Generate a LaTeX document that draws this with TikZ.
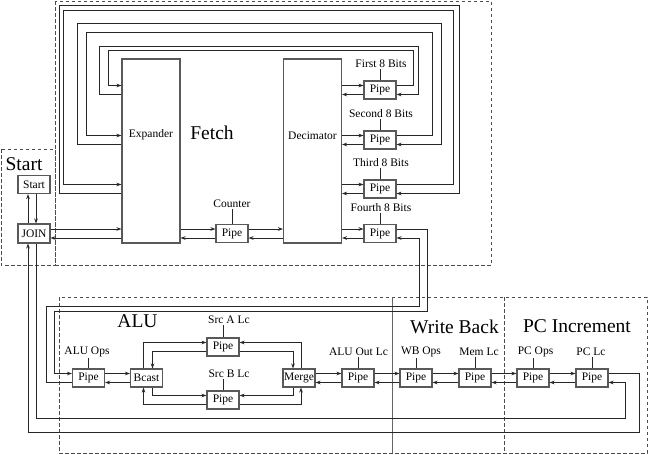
\documentclass[tikz,border=0pt]{standalone}
\usepackage{fontspec}
\setmainfont{Liberation Serif}
\usetikzlibrary{arrows.meta}

\newcommand{\tagsize}{\fontsize{11.5}{13}\selectfont}
\newcommand{\titlesize}{\fontsize{19.5}{22}\selectfont}

\begin{document}
\begin{tikzpicture}[x=1pt, y=-1pt,
    pipe/.style={draw=black!65, line width=1.1pt, minimum width=32pt, minimum height=18pt, inner sep=0pt, font=\tagsize},
    unit/.style={draw=black!65, line width=1.1pt, minimum width=58pt, minimum height=184pt, inner sep=0pt},
    tag/.style={inner sep=1pt, font=\tagsize},
    title/.style={inner sep=0pt, font=\titlesize},
    wire/.style={black!85, line width=0.8pt},
    arr/.style={wire, -{Stealth[length=5pt,width=3.6pt]}},
    region/.style={black!70, line width=0.8pt, dash pattern=on 3.5pt off 2.5pt},
    upr/.style={yshift=4.5pt},
    lwr/.style={yshift=-4.5pt}]
            \useasboundingbox (0,0) rectangle (649,455);

            % regions
            \draw[region] (55,1) rectangle (491,265);
            \draw[region] (1,149) rectangle (55,265);
            \draw[region] (59,297) rectangle (647,453);
            \draw[region] (504,297) -- (504,453);
            \draw[black!60, line width=0.8pt] (392,297) -- (392,453);

            \node[title] (startttl) at (24,164) {Start};
            \node[title] (fetchttl) at (212,133) {Fetch};
            \node[title] (aluttl) at (137.5,321.5) {ALU};
            \node[title] (wbttl) at (454.5,326.5) {Write Back};
            \node[title] (pcttl) at (577,326.5) {PC Increment};

            % start
            \node[pipe] (start) at (34,184.5) {Start};
            \node[pipe, minimum height=19pt] (join) at (34,233.5) {JOIN};

            % fetch
            \node[unit] (exp) at (151,151) {};
            \node[unit] (dec) at (312.5,151) {};
            \node[tag] (explbl) at (151,135) {Expander};
            \node[tag] (declbl) at (312.5,136) {Decimator};

            \node[pipe] (cnt) at (232,233.5) {Pipe};
            \node[pipe] (p1) at (380,90) {Pipe};
            \node[pipe] (p2) at (380,140) {Pipe};
            \node[pipe] (p3) at (380,189) {Pipe};
            \node[pipe] (p4) at (380,233.5) {Pipe};

            \node[tag] (cntlbl) at (232,204) {Counter};
            \node[tag] (p1lbl) at (381,64) {First 8 Bits};
            \node[tag] (p2lbl) at (381,114) {Second 8 Bits};
            \node[tag] (p3lbl) at (381,163) {Third 8 Bits};
            \node[tag] (p4lbl) at (381,207.5) {Fourth 8 Bits};

            % alu, write back, pc increment
            \node[pipe] (aluops) at (88.5,378) {Pipe};
            \node[pipe] (bcast) at (146.5,378) {Bcast};
            \node[pipe] (srca) at (223,347) {Pipe};
            \node[pipe] (srcb) at (223,400) {Pipe};
            \node[pipe] (merge) at (299,378) {Merge};
            \node[pipe] (aluout) at (358,378) {Pipe};
            \node[pipe] (wbops) at (416,378) {Pipe};
            \node[pipe] (memlc) at (475,378) {Pipe};
            \node[pipe] (pcops) at (533,378) {Pipe};
            \node[pipe] (pclc) at (592,378) {Pipe};

            \node[tag] (aluopslbl) at (87,352) {ALU Ops};
            \node[tag] (srcalbl) at (229,320) {Src A Lc};
            \node[tag] (srcblbl) at (229,374) {Src B Lc};
            \node[tag] (aluoutlbl) at (358.5,352) {ALU Out Lc};
            \node[tag] (wbopslbl) at (421,352) {WB Ops};
            \node[tag] (memlclbl) at (479,352) {Mem Lc};
            \node[tag] (pcopslbl) at (535.5,352) {PC Ops};
            \node[tag] (pclclbl) at (591,352) {PC Lc};

            % label ticks
            \draw[wire] (cnt.north |- cntlbl.south) -- (cnt.north);
            \draw[wire] (p1.north |- p1lbl.south) -- (p1.north);
            \draw[wire] (p2.north |- p2lbl.south) -- (p2.north);
            \draw[wire] (p3.north |- p3lbl.south) -- (p3.north);
            \draw[wire] (p4.north |- p4lbl.south) -- (p4.north);
            \draw[wire] (aluops.north |- aluopslbl.south) -- (aluops.north);
            \draw[wire] (srca.north |- srcalbl.south) -- (srca.north);
            \draw[wire] (srcb.north |- srcblbl.south) -- (srcb.north);
            \draw[wire] (aluout.north |- aluoutlbl.south) -- (aluout.north);
            \draw[wire] (wbops.north |- wbopslbl.south) -- (wbops.north);
            \draw[wire] (memlc.north |- memlclbl.south) -- (memlc.north);
            \draw[wire] (pcops.north |- pcopslbl.south) -- (pcops.north);
            \draw[wire] (pclc.north |- pclclbl.south) -- (pclc.north);

            % start <-> join
            \draw[arr] ([xshift=2pt]start.south) -- ([xshift=2pt]join.north);
            \draw[arr] ([xshift=-6pt]join.north) -- ([xshift=-6pt]start.south);

            % join <-> expander <-> counter <-> decimator
            \draw[arr] ([upr]join.east) -- ([upr]join.east -| exp.west);
            \draw[arr] ([lwr]join.east -| exp.west) -- ([lwr]join.east);
            \draw[arr] ([upr]cnt.west -| exp.east) -- ([upr]cnt.west);
            \draw[arr] ([lwr]cnt.west) -- ([lwr]cnt.west -| exp.east);
            \draw[arr] ([upr]cnt.east) -- ([upr]cnt.east -| dec.west);
            \draw[arr] ([lwr]cnt.east -| dec.west) -- ([lwr]cnt.east);

            % decimator <-> byte pipes
            \draw[arr] ([upr]p1.west -| dec.east) -- ([upr]p1.west);
            \draw[arr] ([lwr]p1.west) -- ([lwr]p1.west -| dec.east);
            \draw[arr] ([upr]p2.west -| dec.east) -- ([upr]p2.west);
            \draw[arr] ([lwr]p2.west) -- ([lwr]p2.west -| dec.east);
            \draw[arr] ([upr]p3.west -| dec.east) -- ([upr]p3.west);
            \draw[arr] ([lwr]p3.west) -- ([lwr]p3.west -| dec.east);
            \draw[arr] ([upr]p4.west -| dec.east) -- ([upr]p4.west);
            \draw[arr] ([lwr]p4.west) -- ([lwr]p4.west -| dec.east);

            % byte pipes back to expander
            \draw[arr] ([upr]p1.east) -- ([upr,xshift=17pt]p1.east) |- (108,50) |- ([upr]p1.east -| exp.west);
            \draw[arr] ([lwr]p1.east -| exp.west) -| (99,46) -| ([lwr,xshift=22pt]p1.east) -- ([lwr]p1.east);
            \draw[arr] ([upr]p2.east) -- ([upr,xshift=36pt]p2.east) |- (86,32) |- ([upr]p2.east -| exp.west);
            \draw[arr] ([lwr]p2.east -| exp.west) -| (77,23) -| ([lwr,xshift=45pt]p2.east) -- ([lwr]p2.east);
            \draw[arr] ([upr]p3.east) -- ([upr,xshift=57pt]p3.east) |- (63,10) |- ([upr]p3.east -| exp.west);
            \draw[arr] ([lwr]p3.east -| exp.west) -| (59,5) -| ([lwr,xshift=63pt]p3.east) -- ([lwr]p3.east);

            % fourth byte down to alu ops
            \draw[arr] ([upr]p4.east) -- ([upr,xshift=31pt]p4.east) |- (54,311) |- ([upr]aluops.west);
            \draw[arr] ([lwr]aluops.west) -| (46,306) -| ([lwr,xshift=23pt]p4.east) -- ([lwr]p4.east);

            % alu
            \draw[arr] ([upr]aluops.east) -- ([upr]bcast.west);
            \draw[arr] ([lwr]bcast.west) -- ([lwr]aluops.east);
            \draw[arr] ([xshift=-3pt]bcast.north) |- ([upr]srca.west);
            \draw[arr] ([lwr]srca.west) -| ([xshift=6pt]bcast.north);
            \draw[arr] ([xshift=6pt]bcast.south) |- ([upr]srcb.west);
            \draw[arr] ([lwr]srcb.west) -| ([xshift=-3pt]bcast.south);
            \draw[arr] ([lwr]srca.east) -| ([xshift=-6pt]merge.north);
            \draw[arr] ([xshift=2pt]merge.north) |- ([upr]srca.east);
            \draw[arr] ([lwr]srcb.east) -| ([xshift=2pt]merge.south);
            \draw[arr] ([xshift=-6pt]merge.south) |- ([upr]srcb.east);

            % output chain
            \draw[arr] ([upr]merge.east) -- ([upr]aluout.west);
            \draw[arr] ([lwr]aluout.west) -- ([lwr]merge.east);
            \draw[arr] ([upr]aluout.east) -- ([upr]wbops.west);
            \draw[arr] ([lwr]wbops.west) -- ([lwr]aluout.east);
            \draw[arr] ([upr]wbops.east) -- ([upr]memlc.west);
            \draw[arr] ([lwr]memlc.west) -- ([lwr]wbops.east);
            \draw[arr] ([upr]memlc.east) -- ([upr]pcops.west);
            \draw[arr] ([lwr]pcops.west) -- ([lwr]memlc.east);
            \draw[arr] ([upr]pcops.east) -- ([upr]pclc.west);
            \draw[arr] ([lwr]pclc.west) -- ([lwr]pcops.east);

            % pc lc back to join
            \draw[arr] ([upr]pclc.east) -| (639,432) -| ([xshift=-6pt]join.south);
            \draw[arr] ([xshift=2pt]join.south) |- (625,418) |- ([lwr]pclc.east);
        \end{tikzpicture}
\end{document}
